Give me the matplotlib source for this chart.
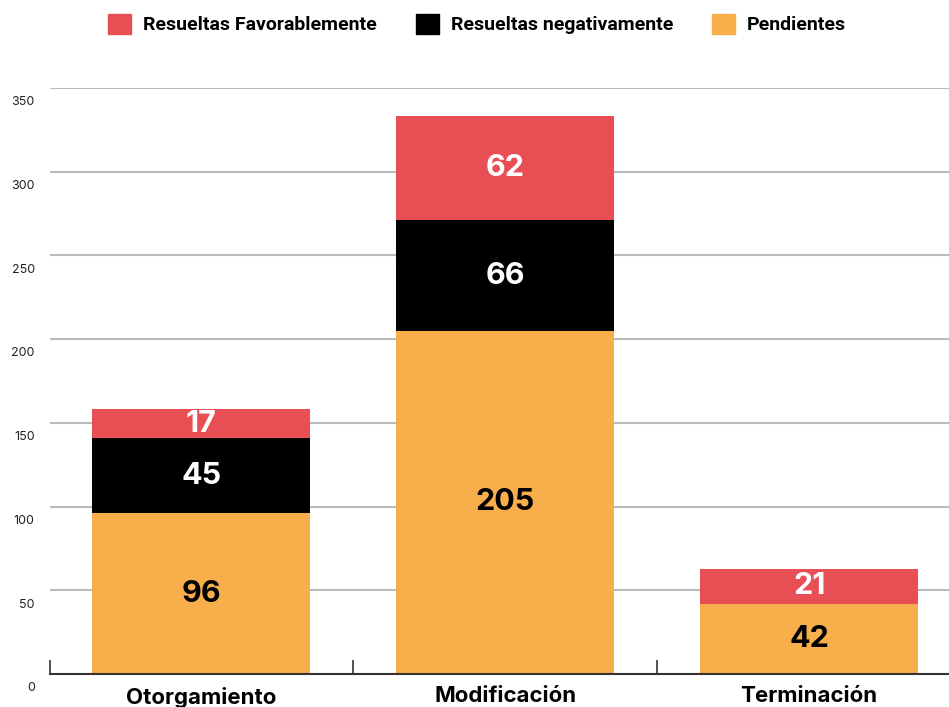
import matplotlib.pyplot as plt
import matplotlib.transforms as mtransforms
from matplotlib.patches import Patch
import numpy as np

categories = ["Otorgamiento", "Modificación", "Terminación"]
pendientes = [96, 205, 42]
negativas = [45, 66, 0]
favorables = [17, 62, 21]
series_names = ["Resueltas Favorablemente", "Resueltas negativamente", "Pendientes"]

red = "#E84F55"
black = "#000000"
orange = "#F8AE4B"

plt.rcParams['font.family'] = ['Inter', 'DejaVu Sans']

fig = plt.figure(figsize=(9.49, 7.07), dpi=100)
ax = fig.add_axes([50 / 949, (707 - 674) / 707, 1 - 50 / 949, (674 - 88) / 707])

x = np.arange(len(categories))
w = 0.717
ax.bar(x, pendientes, w, color=orange, zorder=3)
bottom2 = np.array(pendientes)
ax.bar(x, negativas, w, bottom=bottom2, color=black, zorder=3)
bottom3 = bottom2 + np.array(negativas)
ax.bar(x, favorables, w, bottom=bottom3, color=red, zorder=3)

for i in range(len(categories)):
    ax.text(x[i], pendientes[i] / 2, str(pendientes[i]), ha="center", va="center",
            fontsize=22, fontweight="bold", color="black", zorder=4)
    if negativas[i] > 0:
        ax.text(x[i], bottom2[i] + negativas[i] / 2, str(negativas[i]), ha="center", va="center",
                fontsize=22, fontweight="bold", color="white", zorder=4)
    ax.text(x[i], bottom3[i] + favorables[i] / 2, str(favorables[i]), ha="center", va="center",
            fontsize=22, fontweight="bold", color="white", zorder=4)

ax.set_xlim(-0.497, 2.46)
ax.set_ylim(0, 350)
ax.set_yticks(np.arange(0, 351, 50))
ax.yaxis.grid(True, color="#bbbbbb", linewidth=1.5, zorder=0)
ax.tick_params(axis="y", length=0, pad=11, labelsize=9, labelcolor="#222222")
offset = mtransforms.ScaledTranslation(0, -6 / 72, fig.dpi_scale_trans)
for lab in ax.get_yticklabels():
    lab.set_verticalalignment("top")
    lab.set_transform(lab.get_transform() + offset)

ax.set_xticks(x)
ax.set_xticklabels(categories, fontsize=16, fontweight="bold")
ax.set_xticks([-0.497, 0.5, 1.5], minor=True)
ax.tick_params(axis="x", which="major", length=0, pad=9)
ax.tick_params(axis="x", which="minor", direction="in", length=10, width=1.2, color="#333333")

for s in ["top", "right", "left"]:
    ax.spines[s].set_visible(False)
ax.spines["bottom"].set_color("#333333")
ax.spines["bottom"].set_linewidth(1.5)
ax.spines["bottom"].set_zorder(5)

handles = [Patch(color=red), Patch(color=black), Patch(color=orange)]
fig.legend(handles, series_names, loc="upper center", bbox_to_anchor=(477 / 949, 1.005),
           ncol=3, frameon=False, handlelength=1.2, handleheight=1.2,
           columnspacing=2.0, handletextpad=0.6,
           prop={'family': ['Roboto', 'DejaVu Sans'], 'size': 14, 'weight': 'bold'})

fig.savefig("out.png", dpi=100)
